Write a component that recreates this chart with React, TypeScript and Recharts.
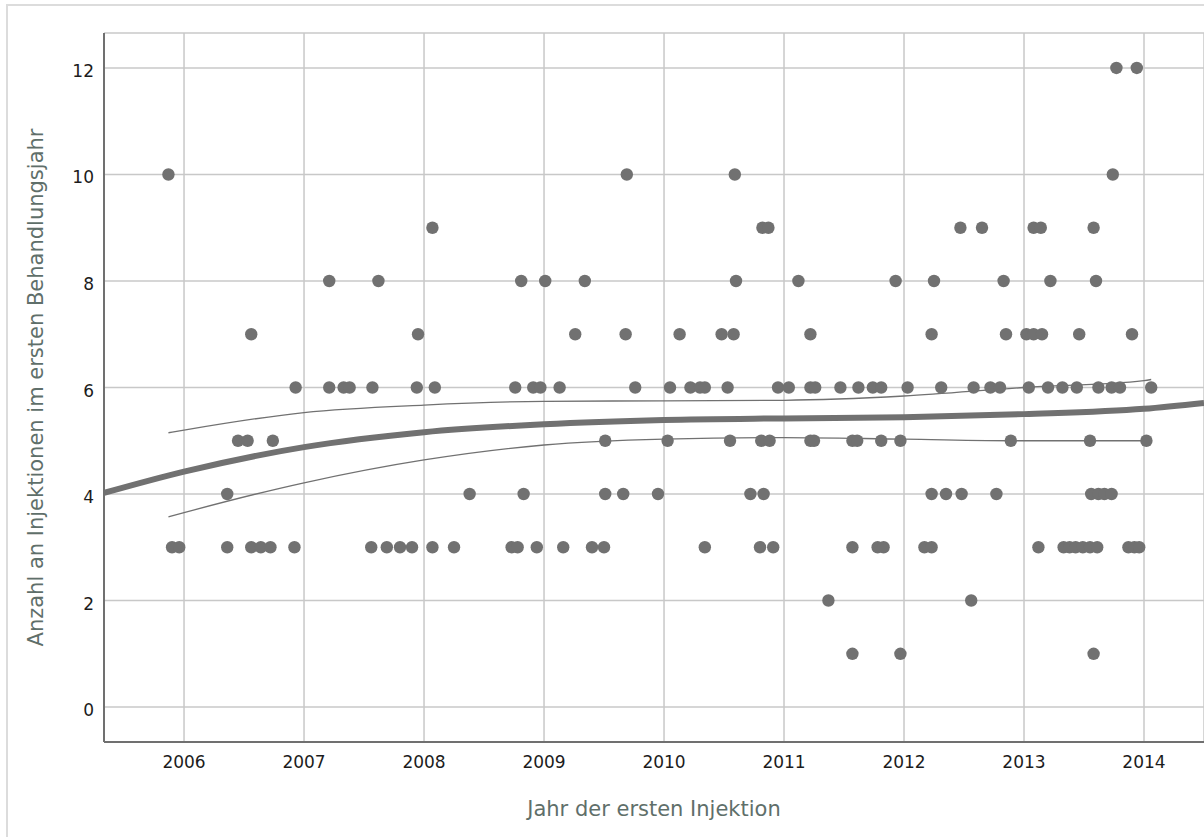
import {
  CartesianGrid,
  ComposedChart,
  Label,
  Line,
  Scatter,
  XAxis,
  YAxis,
} from "recharts";

const yearTicks = [2006, 2007, 2008, 2009, 2010, 2011, 2012, 2013, 2014];
const countTicks = [0, 2, 4, 6, 8, 10, 12];

// year of first injection for every patient, grouped by injections in year one
const yearsWith12 = [2013.77, 2013.94];
const yearsWith10 = [2005.87, 2009.69, 2010.59, 2013.74];
const yearsWith9 = [2008.07, 2010.82, 2010.87, 2012.47, 2012.65, 2013.08, 2013.14, 2013.58];
const yearsWith8 = [
  2007.21, 2007.62, 2008.81, 2009.01, 2009.34, 2010.6, 2011.12, 2011.93, 2012.25, 2012.83,
  2013.22, 2013.6,
];
const yearsWith7 = [
  2006.56, 2007.95, 2009.26, 2009.68, 2010.13, 2010.48, 2010.58, 2011.22, 2012.23, 2012.85,
  2013.02, 2013.08, 2013.15, 2013.46, 2013.9,
];
const yearsWith6 = [
  2006.93, 2007.21, 2007.33, 2007.38, 2007.57, 2007.94, 2008.09, 2008.76, 2008.91, 2008.97,
  2009.13, 2009.76, 2010.05, 2010.22, 2010.3, 2010.34, 2010.53, 2010.95, 2011.04, 2011.22,
  2011.26, 2011.47, 2011.62, 2011.74, 2011.81, 2012.03, 2012.31, 2012.58, 2012.72, 2012.8,
  2013.04, 2013.2, 2013.32, 2013.44, 2013.62, 2013.73, 2013.8, 2014.06,
];
const yearsWith5 = [
  2006.45, 2006.53, 2006.74, 2009.51, 2010.03, 2010.55, 2010.81, 2010.88, 2011.22, 2011.25,
  2011.57, 2011.61, 2011.81, 2011.97, 2012.89, 2013.55, 2014.02,
];
const yearsWith4 = [
  2006.36, 2008.38, 2008.83, 2009.51, 2009.66, 2009.95, 2010.72, 2010.83, 2012.23, 2012.35,
  2012.48, 2012.77, 2013.56, 2013.62, 2013.67, 2013.73,
];
const yearsWith3 = [
  2005.9, 2005.96, 2006.36, 2006.56, 2006.64, 2006.72, 2006.92, 2007.56, 2007.69, 2007.8,
  2007.9, 2008.07, 2008.25, 2008.73, 2008.78, 2008.94, 2009.16, 2009.4, 2009.5, 2010.34,
  2010.8, 2010.91, 2011.57, 2011.78, 2011.83, 2012.17, 2012.23, 2013.12, 2013.33, 2013.38,
  2013.43, 2013.49, 2013.55, 2013.61, 2013.87, 2013.92, 2013.96,
];
const yearsWith2 = [2011.37, 2012.56];
const yearsWith1 = [2011.57, 2011.97, 2013.58];

// fitted curve and its confidence band
const fitYears = [2005.333, 2006, 2007, 2008, 2009, 2010, 2011, 2012, 2013, 2014, 2014.5];
const fitValues = [4.02, 4.42, 4.88, 5.16, 5.31, 5.39, 5.42, 5.44, 5.5, 5.6, 5.71];
const bandYears = [2005.87, 2006, 2007, 2008, 2009, 2010, 2011, 2012, 2013, 2014, 2014.06];
const bandUpper = [5.15, 5.2, 5.53, 5.67, 5.74, 5.75, 5.76, 5.84, 6.0, 6.13, 6.15];
const bandLower = [3.57, 3.65, 4.21, 4.64, 4.92, 5.03, 5.06, 5.03, 5.0, 5.0, 5.0];

const groups: [number, number[]][] = [
  [12, yearsWith12],
  [10, yearsWith10],
  [9, yearsWith9],
  [8, yearsWith8],
  [7, yearsWith7],
  [6, yearsWith6],
  [5, yearsWith5],
  [4, yearsWith4],
  [3, yearsWith3],
  [2, yearsWith2],
  [1, yearsWith1],
];
const points = groups.flatMap(([value, years]) => years.map((year) => ({ year, value })));

const toSeries = (years: number[], values: number[]) =>
  years.map((year, i) => ({ year, value: values[i] }));
const fitData = toSeries(fitYears, fitValues);
const upperData = toSeries(bandYears, bandUpper);
const lowerData = toSeries(bandYears, bandLower);

const MARK = "#717171";
const TITLE = "#5f6f6a";
const FONT = "'DejaVu Sans', sans-serif";

function Dot(props: any) {
  return <circle cx={props.cx} cy={props.cy} r={6.2} fill={MARK} />;
}

function YTick(props: any) {
  const { x, y, payload } = props;
  return (
    <text x={x} y={y} dy={3} textAnchor="end" dominantBaseline="central" fontFamily={FONT} fontSize={17} fill="#1c1c1c">
      {payload.value}
    </text>
  );
}

function XTick(props: any) {
  const { x, y, payload } = props;
  return (
    <text x={x} y={y} dy="0.71em" textAnchor="middle" fontFamily={FONT} fontSize={17} fill="#1c1c1c">
      {payload.value}
    </text>
  );
}

function YTitle(props: any) {
  const vb = props.viewBox;
  const cx = 43;
  const cy = vb.y + vb.height / 2;
  return (
    <text x={cx} y={cy} transform={`rotate(-90 ${cx} ${cy})`} textAnchor="middle" fontFamily={FONT} fontSize={21} fill={TITLE}>
      Anzahl an Injektionen im ersten Behandlungsjahr
    </text>
  );
}

function XTitle(props: any) {
  const vb = props.viewBox;
  return (
    <text x={vb.x + vb.width / 2} y={vb.y + 74} textAnchor="middle" fontFamily={FONT} fontSize={21} fill={TITLE}>
      Jahr der ersten Injektion
    </text>
  );
}

export default function App() {
  return (
    <div
      style={{
        position: "absolute",
        left: 0,
        top: 0,
        width: 1204,
        height: 837,
        overflow: "hidden",
        background: "#fff",
      }}
    >
      <div
        style={{
          position: "absolute",
          left: 6,
          top: 4,
          width: 1400,
          height: 1000,
          border: "2px solid #dcdcdc",
        }}
      />
      <div style={{ position: "absolute", left: 0, top: 0 }}>
        <ComposedChart
          width={1204}
          height={837}
          margin={{ top: 33, right: 0, bottom: 0, left: 0 }}
        >
          <CartesianGrid stroke="#c8c8c8" strokeWidth={1.5} />
          <XAxis
            dataKey="year"
            type="number"
            domain={[2005.333, 2014.5]}
            allowDataOverflow
            ticks={yearTicks}
            height={95}
            tickLine={false}
            tickSize={0}
            tickMargin={14}
            axisLine={{ stroke: "#707070", strokeWidth: 2 }}
            tick={<XTick />}
          >
            <Label content={<XTitle />} />
          </XAxis>
          <YAxis
            dataKey="value"
            type="number"
            domain={[-0.657, 12.657]}
            allowDataOverflow
            ticks={countTicks}
            width={104}
            tickLine={false}
            tickSize={0}
            tickMargin={10}
            axisLine={{ stroke: "#707070", strokeWidth: 2 }}
            tick={<YTick />}
          >
            <Label content={<YTitle />} />
          </YAxis>
          <Scatter data={points} shape={<Dot />} isAnimationActive={false} />
          <Line
            data={upperData}
            dataKey="value"
            type="monotone"
            stroke={MARK}
            strokeWidth={1.3}
            dot={false}
            activeDot={false}
            isAnimationActive={false}
          />
          <Line
            data={lowerData}
            dataKey="value"
            type="monotone"
            stroke={MARK}
            strokeWidth={1.3}
            dot={false}
            activeDot={false}
            isAnimationActive={false}
          />
          <Line
            data={fitData}
            dataKey="value"
            type="monotone"
            stroke={MARK}
            strokeWidth={6}
            dot={false}
            activeDot={false}
            isAnimationActive={false}
          />
        </ComposedChart>
      </div>
    </div>
  );
}
